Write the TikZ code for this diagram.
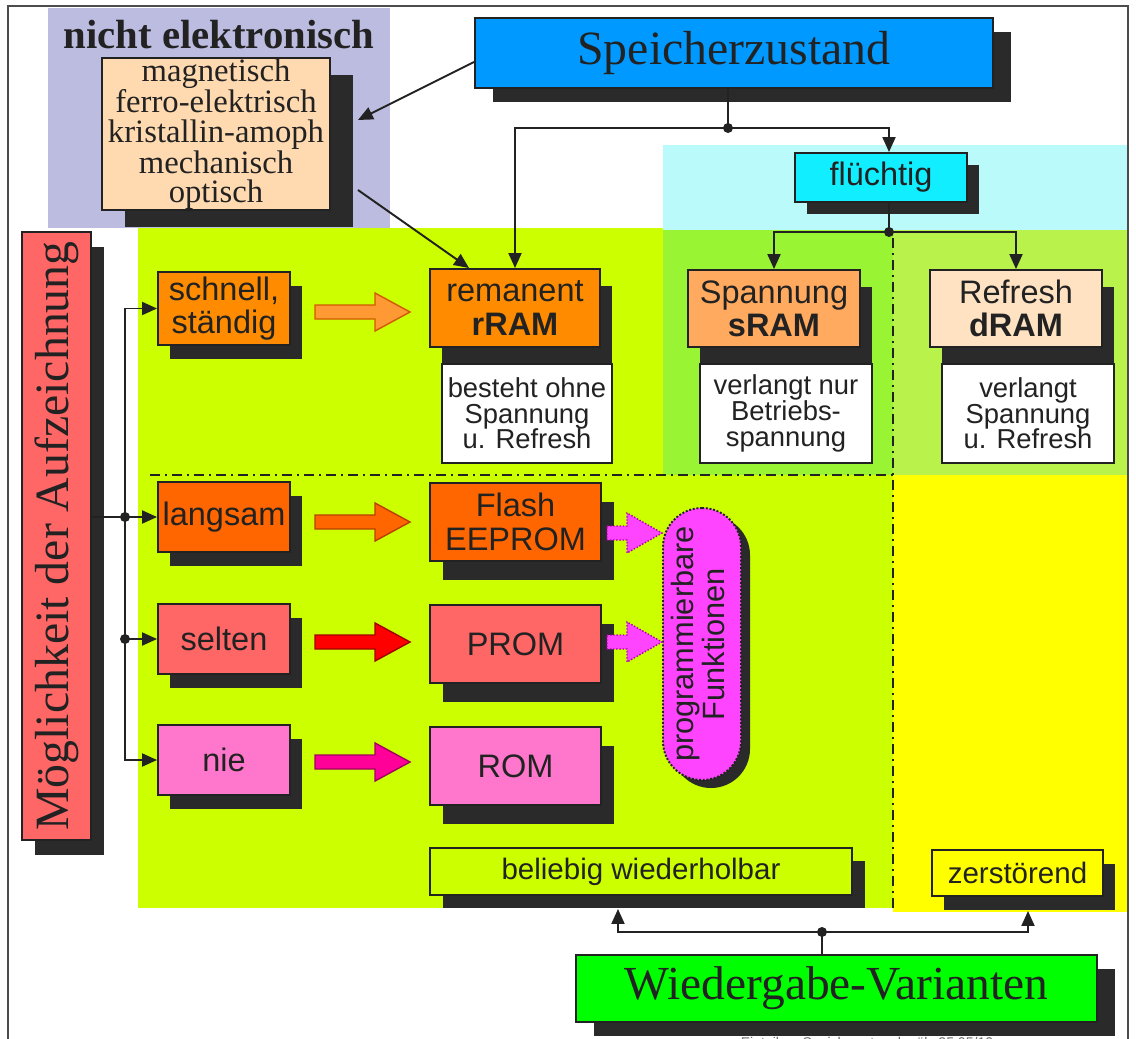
\documentclass[tikz,border=0pt]{standalone}
\usepackage{fontspec}
\setmainfont{Liberation Serif}
\setsansfont{Liberation Sans}
\usetikzlibrary{shadows,arrows.meta,calc}

% colours
\definecolor{lav}{HTML}{BCBCE0}
\definecolor{peach}{HTML}{FFDAB0}
\definecolor{skyblue}{HTML}{0099FF}
\definecolor{cyanbox}{HTML}{11EEFF}
\definecolor{cyanbg}{HTML}{BBFAFA}
\definecolor{limebg}{HTML}{CCFF00}
\definecolor{sgreen}{HTML}{99F533}
\definecolor{dgreen}{HTML}{B8F24A}
\definecolor{yel}{HTML}{FFFF00}
\definecolor{orA}{HTML}{FF8C00}
\definecolor{orB}{HTML}{FFAA5E}
\definecolor{orC}{HTML}{FFE2C2}
\definecolor{orD}{HTML}{FF6600}
\definecolor{salm}{HTML}{FF6666}
\definecolor{pinkb}{HTML}{FF77CC}
\definecolor{magp}{HTML}{FF44FF}
\definecolor{magd}{HTML}{AA00AA}
\definecolor{grn}{HTML}{00FF00}
\definecolor{shd}{HTML}{2A2A2A}
\definecolor{ink}{HTML}{222222}
\definecolor{arrA}{HTML}{FF9933}
\definecolor{arrAd}{HTML}{D05A00}
\definecolor{arrBd}{HTML}{B84000}
\definecolor{arrC}{HTML}{FF0000}
\definecolor{arrCd}{HTML}{A00000}
\definecolor{arrD}{HTML}{FF0099}
\definecolor{arrDd}{HTML}{A00060}

% text sizes
\newcommand\txSZ{\fontsize{27.2pt}{30pt}\selectfont}
\newcommand\txWV{\fontsize{27pt}{30pt}\selectfont}
\newcommand\txNE{\fontsize{23.2pt}{26pt}\selectfont\bfseries}
\newcommand\txMat{\fontsize{18.6pt}{16.6pt}\selectfont}
\newcommand\txBox{\sffamily\fontsize{18.5pt}{19pt}\selectfont}
\newcommand\txWhite{\sffamily\fontsize{15.6pt}{14.6pt}\selectfont}
\newcommand\txPill{\sffamily\fontsize{17.5pt}{16pt}\selectfont}
\newcommand\txBar{\sffamily\fontsize{16.8pt}{18pt}\selectfont}
\newcommand\txFoot{\sffamily\fontsize{8pt}{9pt}\selectfont}

% wide block arrow between the two box columns
\newcommand\blockarrow[3]{%
  \filldraw[fill=#2,draw=#3,line width=0.8pt]
    (315,#1-7) -- (375,#1-7) -- (375,#1-19) -- (410,#1)
    -- (375,#1+19) -- (375,#1+7) -- (315,#1+7) -- cycle;}
% small dotted arrow into the "programmierbare Funktionen" pill
\newcommand\progarrow[1]{%
  \filldraw[fill=magp,draw=magd,densely dotted,line width=0.8pt]
    (607,#1-7) -- (627,#1-7) -- (627,#1-20) -- (662,#1)
    -- (627,#1+20) -- (627,#1+7) -- (607,#1+7) -- cycle;}

\begin{document}
\begin{tikzpicture}[x=0.02cm, y=-0.02cm,
  box/.style={draw=ink, line width=1.1pt, inner sep=0pt, text=ink, align=center},
  wh/.style 2 args={minimum width=#1*0.02cm, minimum height=#2*0.02cm},
  dropsh/.style 2 args={drop shadow={shadow xshift=#1*0.02cm, shadow yshift=-#2*0.02cm, fill=shd, opacity=1}},
  line/.style={draw=ink, line width=1.1pt},
  conn/.style={draw=ink, line width=1.1pt, -{Triangle[length=0.3cm,width=0.26cm]}},
  frame/.style={draw=black!70, line width=1.3pt},
  dashdot/.style={draw=ink, line width=1.2pt, dash pattern=on 0.2cm off 0.1cm on 0.04cm off 0.1cm}]

\useasboundingbox (0,0) rectangle (1136,1038);
\clip (0,0) rectangle (1136,1038);
\fill[white] (0,0) rectangle (1136,1038);

% coloured zones
\fill[lav] (48,8) rectangle (390,228);
\fill[limebg] (138,228) rectangle (893,908);
\fill[cyanbg] (663,145) rectangle (1128,230);
\fill[sgreen] (663,230) rectangle (893,475);
\fill[dgreen] (893,230) rectangle (1128,475);
\fill[yel] (893,475) rectangle (1128,912);

% outer frame
\draw[frame] (8,1060) -- (8,6) -- (1128,6) -- (1128,1060);

% zone separators
\draw[dashdot] (893,238) -- (893,912);
\draw[dashdot] (150,475) -- (893,475);

% non-electronic storage
\node[text=ink, font=\txNE] (ne) at (219,35) {nicht elektronisch};
\node[box, fill=peach, wh={228}{150}, dropsh={23}{17}, font=\txMat] (mat) at (216,134)
  {magnetisch\\ferro-elektrisch\\kristallin-amoph\\mechanisch\\optisch};

% top: storage state
\node[box, fill=skyblue, wh={518}{70}, dropsh={18}{14}, font=\txSZ] (sz) at (734,53) {Speicherzustand};
\node[box, fill=cyanbox, wh={172}{49}, dropsh={12}{12}, font=\txBox] (fl) at (881,177.5) {flüchtig};

% RAM kinds
\node[box, fill=orA, wh={170}{78}, dropsh={12}{17}, font=\txBox] (rram) at (515,308) {remanent\\\textbf{rRAM}};
\node[box, fill=white, wh={170}{99}, font=\txWhite] (rramw) at (527,413.5) {besteht ohne\\Spannung\\u. Refresh};
\node[box, fill=orB, wh={172}{77}, dropsh={12}{17}, font=\txBox] (sram) at (774,308.5) {Spannung\\\textbf{sRAM}};
\node[box, fill=white, wh={172}{99}, font=\txWhite] (sramw) at (786,413.5) {verlangt nur\\Betriebs-\\spannung};
\node[box, fill=orC, wh={172}{77}, dropsh={12}{17}, font=\txBox] (dram) at (1016,308.5) {Refresh\\\textbf{dRAM}};
\node[box, fill=white, wh={172}{99}, font=\txWhite] (dramw) at (1028,413.5) {verlangt\\Spannung\\u. Refresh};

% recording possibility
\node[box, fill=salm, wh={69}{608}, dropsh={13}{15}] (mda) at (56.5,536)
  {\rotatebox{90}{\txSZ Möglichkeit der Aufzeichnung}};
\node[box, fill=orA, wh={132}{73}, dropsh={12}{14}, font=\txBox] (schnell) at (224,308.5) {schnell,\\ständig};
\node[box, fill=orD, wh={132}{70}, dropsh={12}{14}, font=\txBox] (langsam) at (224,517) {langsam};
\node[box, fill=salm, wh={132}{70}, dropsh={12}{14}, font=\txBox] (selten) at (224,639) {selten};
\node[box, fill=pinkb, wh={132}{70}, dropsh={12}{14}, font=\txBox] (nie) at (224,760) {nie};

% ROM kinds
\node[box, fill=orD, wh={171}{78}, dropsh={13}{19}, font=\txBox] (flash) at (515.5,522) {Flash\\EEPROM};
\node[box, fill=salm, wh={171}{78}, dropsh={13}{19}, font=\txBox] (prom) at (515.5,644) {PROM};
\node[box, fill=pinkb, wh={171}{78}, dropsh={13}{19}, font=\txBox] (rom) at (515.5,766) {ROM};

% block arrows
\blockarrow{312}{arrA}{arrAd}
\blockarrow{522}{orD}{arrBd}
\blockarrow{642}{arrC}{arrCd}
\blockarrow{762}{arrD}{arrDd}

% programmable functions
\node[box, fill=magp, wh={78}{272}, rounded corners=0.78cm, densely dotted, dropsh={9}{8}] (pf) at (702,644)
  {\rotatebox{90}{\txPill\begin{tabular}{@{}c@{}}programmierbare\\Funktionen\end{tabular}}};
\progarrow{533}
\progarrow{642}

% playback variants
\node[box, fill=limebg, wh={422}{47}, dropsh={13}{13}, font=\txBar] (bw) at (641,871.5) {beliebig wiederholbar};
\node[box, fill=yel, wh={171}{46}, dropsh={12}{14}, font=\txBar] (zs) at (1017.5,873) {zerstörend};
\node[box, fill=grn, wh={521}{67}, dropsh={18}{14}, font=\txWV] (wv) at (836.5,988.5) {Wiedergabe-Varianten};

% connectors: storage state
\coordinate (j1) at (728,128);
\draw[line] (sz.south -| j1) -- (j1);
\draw[conn] (j1) -| (rram.north);
\draw[conn] (j1) -| ($(fl.north)+(8,0)$);
\fill[ink] (j1) circle (0.1cm);
\draw[conn] ($(sz.west)+(0,9)$) -- ($(mat.east)+(27,-14)$);
\draw[conn] ($(mat.east)+(27,56)$) -- ($(rram.north west)+(40,0)$);

\coordinate (j2) at (889,232);
\draw[line] (fl.south -| j2) -- (j2);
\draw[conn] (j2) -| (sram.north);
\draw[conn] (j2) -| (dram.north);
\fill[ink] (j2) circle (0.1cm);

% connectors: recording
\coordinate (j3) at (125,517);
\coordinate (j4) at (125,639);
\draw[line] (mda.east |- j3) -- (j3);
\draw[line] (j3) -- (j4);
\draw[conn] (j3) |- (schnell.west);
\draw[conn] (j3) -- (langsam.west);
\draw[conn] (j4) -- (selten.west);
\draw[conn] (j4) |- (nie.west);
\fill[ink] (j3) circle (0.1cm);
\fill[ink] (j4) circle (0.1cm);

% connectors: playback
\coordinate (j5) at (822,932);
\draw[line] (wv.north -| j5) -- (j5);
\draw[conn] (j5) -| ($(bw.south)+(-23,13)$);
\draw[conn] (j5) -| ($(zs.south)+(10.5,14)$);
\fill[ink] (j5) circle (0.1cm);

% file note
\node[text=black!60, font=\txFoot, anchor=north] (ft) at (867,1031) {EinteilungSpeicherarten, h.völz 25.05/10};
\end{tikzpicture}
\end{document}
